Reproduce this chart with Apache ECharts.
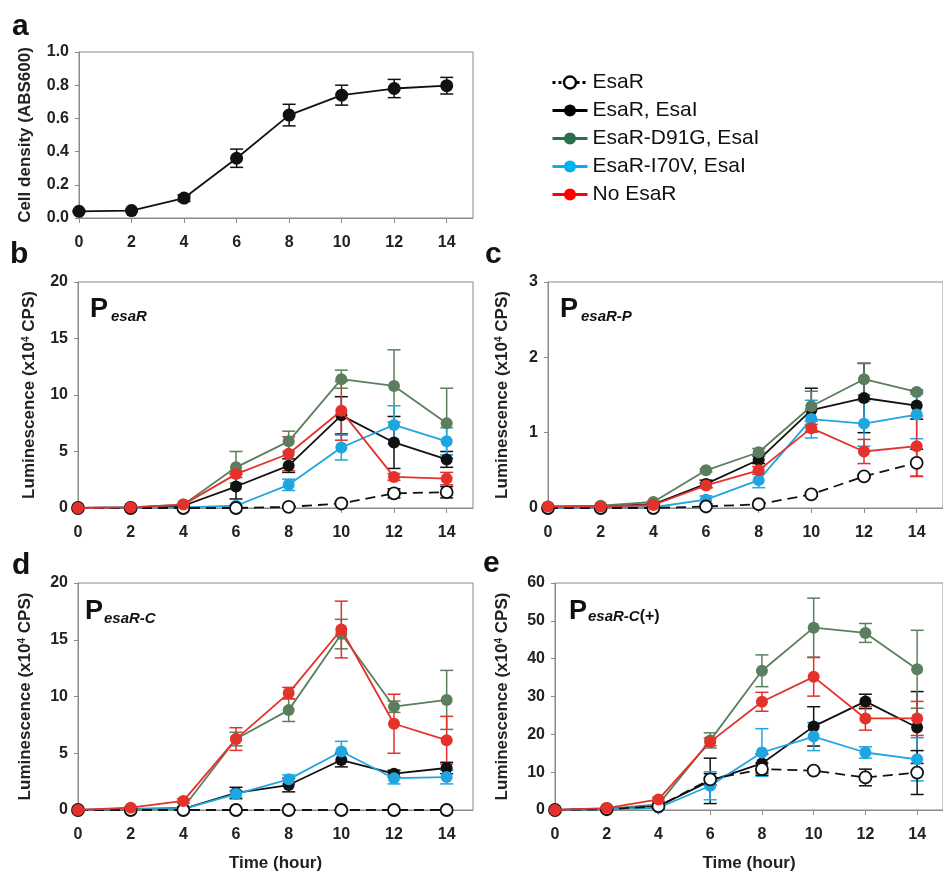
<!DOCTYPE html>
<html><head><meta charset="utf-8">
<script src="https://cdn.jsdelivr.net/npm/echarts@6/dist/echarts.min.js"></script>
<style>html,body{margin:0;padding:0;background:#fff}#c{width:943px;height:873px}</style>
</head><body><div id="c"></div>
<script>
// ---------- data ----------
const hours = [0, 2, 4, 6, 8, 10, 12, 14];
const xTicks = [0, 2, 4, 6, 8, 10, 12, 14];
const seriesNames = ['EsaR', 'EsaR, EsaI', 'EsaR-D91G, EsaI', 'EsaR-I70V, EsaI', 'No EsaR'];

// panel a: cell density (ABS600)
const density = [0.04, 0.045, 0.12, 0.36, 0.62, 0.74, 0.78, 0.797];
const densityErr = [0.005, 0.005, 0.02, 0.055, 0.065, 0.06, 0.055, 0.05];

// panel b: PesaR
const bEsaR = [0, 0, 0, 0, 0.1, 0.4, 1.3, 1.4];
const bEsaRErr = [0, 0, 0, 0, 0.05, 0.1, 0.4, 0.5];
const bEsaREsaI = [0, 0.05, 0.2, 1.9, 3.75, 8.2, 5.8, 4.3];
const bEsaREsaIErr = [0, 0, 0.05, 1.1, 0.6, 1.65, 2.3, 0.7];
const bD91G = [0, 0.05, 0.3, 3.6, 5.9, 11.4, 10.8, 7.5];
const bD91GErr = [0, 0, 0.05, 1.4, 0.9, 0.8, 3.2, 3.1];
const bI70V = [0, 0.02, 0.05, 0.2, 2.05, 5.35, 7.35, 5.9];
const bI70VErr = [0, 0, 0, 0.1, 0.5, 1.1, 1.7, 1.2];
const bNoEsaR = [0, 0.05, 0.3, 3.0, 4.8, 8.6, 2.75, 2.6];
const bNoEsaRErr = [0, 0, 0.05, 0.3, 1.5, 2.6, 0.3, 0.55];

// panel c: PesaR-P
const cEsaR = [0, 0, 0, 0.02, 0.05, 0.18, 0.42, 0.6];
const cEsaRErr = [0, 0, 0, 0, 0, 0.02, 0.02, 0.18];
const cEsaREsaI = [0.01, 0.02, 0.05, 0.32, 0.64, 1.3, 1.46, 1.36];
const cEsaREsaIErr = [0, 0, 0.01, 0.05, 0.05, 0.29, 0.46, 0.18];
const cD91G = [0.02, 0.03, 0.08, 0.5, 0.74, 1.35, 1.71, 1.54];
const cD91GErr = [0, 0, 0.01, 0.02, 0.05, 0.2, 0.21, 0.03];
const cI70V = [0, 0.01, 0.01, 0.11, 0.37, 1.18, 1.12, 1.24];
const cI70VErr = [0, 0, 0, 0.05, 0.1, 0.25, 0.3, 0.32];
const cNoEsaR = [0.02, 0.02, 0.04, 0.3, 0.5, 1.06, 0.75, 0.82];
const cNoEsaRErr = [0, 0, 0.01, 0.03, 0.05, 0.05, 0.16, 0.4];

// panel d: PesaR-C
const dEsaR = [0, 0, 0, 0, 0, 0, 0, 0];
const dEsaRErr = [0, 0, 0, 0, 0, 0, 0, 0];
const dEsaREsaI = [0, 0.05, 0.1, 1.5, 2.2, 4.4, 3.2, 3.7];
const dEsaREsaIErr = [0, 0, 0.05, 0.5, 0.6, 0.6, 0.3, 0.5];
const dD91G = [0, 0.1, 0.2, 6.25, 8.8, 15.5, 9.1, 9.7];
const dD91GErr = [0, 0, 0.05, 0.6, 1.0, 1.3, 0.5, 2.6];
const dI70V = [0, 0.05, 0.1, 1.4, 2.7, 5.15, 2.8, 2.9];
const dI70VErr = [0, 0, 0.05, 0.3, 0.4, 0.9, 0.5, 0.6];
const dNoEsaR = [0, 0.2, 0.8, 6.25, 10.3, 15.9, 7.6, 6.15];
const dNoEsaRErr = [0, 0.05, 0.2, 1.0, 0.5, 2.5, 2.6, 2.1];

// panel e: PesaR-C(+)
const eEsaR = [0, 0.2, 1.0, 8.1, 10.8, 10.4, 8.6, 9.9];
const eEsaRErr = [0, 0, 0.2, 1.5, 1.6, 0.5, 2.2, 5.8];
const eEsaREsaI = [0, 0.3, 1.0, 7.7, 12.3, 22.1, 28.7, 21.8];
const eEsaREsaIErr = [0, 0, 0.2, 6.0, 2.5, 5.2, 1.9, 9.5];
const eD91G = [0, 0.3, 1.5, 18.4, 36.8, 48.2, 46.8, 37.2];
const eD91GErr = [0, 0, 0.3, 2.0, 4.2, 7.8, 2.5, 10.3];
const eI70V = [0, 0.2, 0.6, 6.4, 15.2, 19.4, 15.2, 13.4];
const eI70VErr = [0, 0, 0.2, 3.7, 6.3, 3.7, 1.5, 5.7];
const eNoEsaR = [0, 0.5, 2.8, 18.0, 28.6, 35.2, 24.2, 24.2];
const eNoEsaRErr = [0, 0.1, 0.5, 1.0, 2.5, 5.1, 3.1, 4.5];

// ---------- styles ----------
const FONT = '"Liberation Sans", Arial, sans-serif';
const plotColors = ['#111111', '#111111', '#5b7f5e', '#1fa5df', '#e5312b'];
const legendColors = ['#000000', '#000000', '#2b6e4c', '#00b0f0', '#ff0000'];
const axisGray = '#8a8a8a';

const grids = [
  { left: 79, top: 52, width: 394, height: 166 },
  { left: 78, top: 282, width: 395, height: 226 },
  { left: 548, top: 282, width: 396, height: 226 },
  { left: 78, top: 583, width: 395, height: 228 },
  { left: 555, top: 583, width: 396, height: 228 }
];
const yCfg = [
  { max: 1, interval: 0.2, fmt: v => v.toFixed(1), name: 'Cell density (ABS600)', gap: 45 },
  { max: 20, interval: 5, name: 'Luminescence (x10{sup|4} CPS)', gap: 40 },
  { max: 3, interval: 1, name: 'Luminescence (x10{sup|4} CPS)', gap: 37 },
  { max: 20, interval: 5, name: 'Luminescence (x10{sup|4} CPS)', gap: 44 },
  { max: 60, interval: 10, name: 'Luminescence (x10{sup|4} CPS)', gap: 44 }
];

const panels = [
  [bEsaR, bEsaREsaI, bD91G, bI70V, bNoEsaR, bEsaRErr, bEsaREsaIErr, bD91GErr, bI70VErr, bNoEsaRErr],
  [cEsaR, cEsaREsaI, cD91G, cI70V, cNoEsaR, cEsaRErr, cEsaREsaIErr, cD91GErr, cI70VErr, cNoEsaRErr],
  [dEsaR, dEsaREsaI, dD91G, dI70V, dNoEsaR, dEsaRErr, dEsaREsaIErr, dD91GErr, dI70VErr, dNoEsaRErr],
  [eEsaR, eEsaREsaI, eD91G, eI70V, eNoEsaR, eEsaRErr, eEsaREsaIErr, eD91GErr, eI70VErr, eNoEsaRErr]
];

const xAxes = grids.map((g, i) => ({
  type: 'value', gridIndex: i, min: 0, max: 15,
  axisLine: { show: true, lineStyle: { color: axisGray, width: 1 } },
  axisTick: { show: true, length: 5, lineStyle: { color: axisGray }, customValues: xTicks },
  axisLabel: { customValues: xTicks, margin: 17, fontFamily: FONT, fontWeight: 'bold', fontSize: 16, color: '#222' },
  splitLine: { show: false },
  name: i >= 3 ? 'Time (hour)' : '',
  nameLocation: 'middle', nameGap: 45,
  nameTextStyle: { fontFamily: FONT, fontWeight: 'bold', fontSize: 17, color: '#222' }
}));

const yAxes = yCfg.map((c, i) => ({
  type: 'value', gridIndex: i, min: 0, max: c.max, interval: c.interval,
  axisLine: { show: true, lineStyle: { color: axisGray, width: 1 } },
  axisTick: { show: true, length: 4, lineStyle: { color: axisGray } },
  axisLabel: { margin: 10, fontFamily: FONT, fontWeight: 'bold', fontSize: 16, color: '#222',
    formatter: c.fmt ? c.fmt : (v => String(v)) },
  splitLine: { show: false },
  name: c.name, nameLocation: 'middle', nameRotate: 90, nameGap: c.gap,
  nameTextStyle: { fontFamily: FONT, fontWeight: 'bold', fontSize: 17, color: '#222',
    rich: { sup: { fontFamily: FONT, fontWeight: 'bold', fontSize: 10, color: '#222', verticalAlign: 'top', padding: [0, 0, 6, 0] } } }
}));

function errBars(name, color, means, errs, gi) {
  const data = hours.map((h, k) => [h, means[k] - errs[k], means[k] + errs[k], errs[k]]);
  return {
    type: 'custom', name: name + ' err', xAxisIndex: gi, yAxisIndex: gi, z: 1, silent: true,
    encode: { x: 0, y: [1, 2] },
    data: data,
    renderItem: function (params, api) {
      if (api.value(3) <= 0) return null;
      const x = api.value(0);
      const top = api.coord([x, api.value(2)]);
      const bot = api.coord([x, api.value(1)]);
      const w = 6.5;
      const st = { stroke: color, lineWidth: 1.5 };
      return { type: 'group', children: [
        { type: 'line', shape: { x1: top[0], y1: top[1], x2: bot[0], y2: bot[1] }, style: st },
        { type: 'line', shape: { x1: top[0] - w, y1: top[1], x2: top[0] + w, y2: top[1] }, style: st },
        { type: 'line', shape: { x1: bot[0] - w, y1: bot[1], x2: bot[0] + w, y2: bot[1] }, style: st }
      ] };
    }
  };
}

const series = [];
// panel a
series.push(errBars('density', '#111', density, densityErr, 0));
series.push({
  type: 'line', name: 'density', xAxisIndex: 0, yAxisIndex: 0, z: 3,
  data: hours.map((h, k) => [h, density[k]]),
  symbol: 'circle', symbolSize: 13, itemStyle: { color: '#111' },
  lineStyle: { color: '#111', width: 1.8 }
});
// draw order within panel: black, green, blue, hollow, red
const order = [1, 2, 3, 0, 4];
panels.forEach((p, pi) => {
  const gi = pi + 1;
  order.forEach(si => {
    series.push(errBars(seriesNames[si], plotColors[si], p[si], p[si + 5], gi));
  });
  order.forEach((si, oi) => {
    const hollow = si === 0;
    series.push({
      type: 'line', name: seriesNames[si], xAxisIndex: gi, yAxisIndex: gi, z: 3 + oi,
      data: hours.map((h, k) => [h, p[si][k]]),
      symbol: 'circle', symbolSize: 12,
      itemStyle: hollow ? { color: '#ffffff', borderColor: '#111', borderWidth: 1.8 } : { color: plotColors[si] },
      lineStyle: { color: plotColors[si], width: 1.8, type: hollow ? [10, 6] : 'solid' }
    });
  });
});

const legendData = seriesNames.map((n, i) => ({
  name: n,
  itemStyle: i === 0 ? { color: '#ffffff', borderColor: '#000', borderWidth: 2.4 } : { color: legendColors[i], borderWidth: 0 },
  lineStyle: { color: legendColors[i], width: 3, type: i === 0 ? [3, 3] : 'solid' }
}));

function txt(text, x, y, size, extra) {
  return { type: 'text', left: x, top: y, silent: true,
    style: Object.assign({ text: text, x: 0, y: 0, fill: '#111', font: 'bold ' + size + 'px ' + FONT }, extra || {}) };
}
const ITAL = 'italic bold 15px ' + FONT;
const graphics = [
  txt('a', 12, 12, 30), txt('b', 10, 240, 30), txt('c', 485, 240, 30),
  txt('d', 12, 551, 30), txt('e', 483, 549, 30),
  txt('P', 90, 296, 27), txt('esaR', 111, 309, 15, { font: ITAL }),
  txt('P', 560, 296, 27), txt('esaR-P', 581, 309, 15, { font: ITAL }),
  txt('P', 85, 598, 27), txt('esaR-C', 104, 611, 15, { font: ITAL }),
  txt('P', 569, 598, 27),
  { type: 'text', left: 588, top: 609, silent: true,
    style: { text: '{i|esaR-C}{n|(+)}', fill: '#111',
      rich: { i: { font: ITAL, fill: '#111' }, n: { font: 'bold 16px ' + FONT, fill: '#111' } } } }
];

const chart = echarts.init(document.getElementById('c'), null, { renderer: 'canvas' });
chart.setOption({
  animation: false,
  backgroundColor: '#fff',
  grid: grids.map(g => Object.assign({ show: true, borderColor: axisGray, borderWidth: 1, backgroundColor: 'transparent', containLabel: false }, g)),
  xAxis: xAxes,
  yAxis: yAxes,
  legend: {
    data: legendData, orient: 'vertical', left: 546, top: 67,
    itemWidth: 35, itemHeight: 15, itemGap: 7, selectedMode: false,
    textStyle: { fontFamily: FONT, fontSize: 21, color: '#111', lineHeight: 21 }
  },
  graphic: graphics,
  series: series
});
</script></body></html>
